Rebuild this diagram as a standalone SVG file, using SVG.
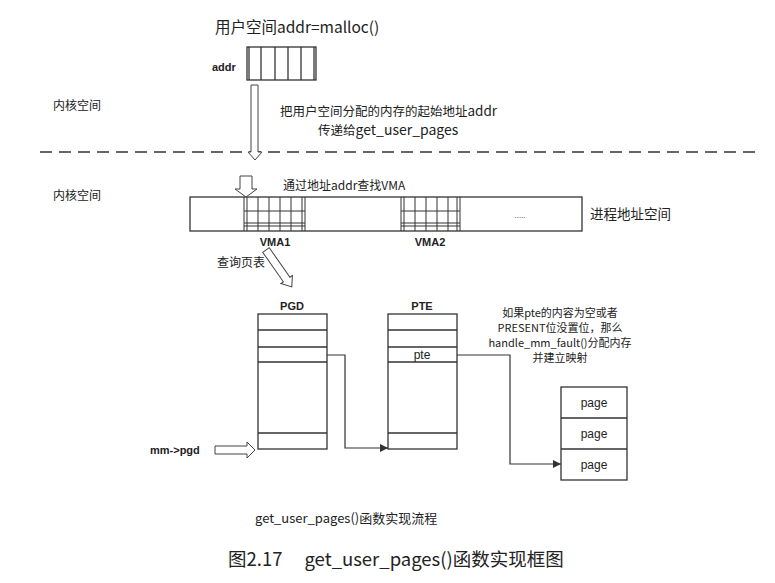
<svg xmlns="http://www.w3.org/2000/svg" width="775" height="583" viewBox="0 0 775 583">
  <style>
    .box { fill: #fff; stroke: #333; stroke-width: 1.3; }
    .ln { fill: none; stroke: #333; stroke-width: 1.3; }
    .thin { fill: none; stroke: #333; stroke-width: 1; }
    .hollow { fill: #fff; stroke: #444; stroke-width: 1; }
    .cjk { font-family: "Noto Sans CJK SC", "Noto Sans", sans-serif; fill: #222; }
    .lbl { font-family: "Liberation Sans", Arial, sans-serif; font-weight: bold; fill: #222; }
    .lat { font-family: "Liberation Sans", Arial, sans-serif; fill: #222; }
    .conn { fill: none; stroke: #333; stroke-width: 1.2; }
  </style>
  <defs>
    <marker id="tri" viewBox="0 0 10 10" refX="10" refY="5" markerWidth="8" markerHeight="8" markerUnits="userSpaceOnUse" orient="auto">
      <path d="M0,0 L10,5 L0,10 z" fill="#333"/>
    </marker>
  </defs>
  <rect width="775" height="583" fill="#fff"/>

  <!-- user space -->
  <g id="user-title">
    <text class="cjk" x="215" y="33" font-size="15.5">用户空间addr=malloc()</text>
  </g>
  <g id="addr-buffer">
    <text class="lbl" x="212" y="71" font-size="11">addr</text>
    <rect class="box" x="247" y="47" width="69" height="33"/>
    <line class="ln" x1="249" y1="47" x2="249" y2="80"/>
    <line class="ln" x1="261" y1="47" x2="261" y2="80"/>
    <line class="ln" x1="275" y1="47" x2="275" y2="80"/>
    <line class="ln" x1="288" y1="47" x2="288" y2="80"/>
    <line class="ln" x1="301" y1="47" x2="301" y2="80"/>
    <line class="ln" x1="314" y1="47" x2="314" y2="80"/>
  </g>
  <g id="label-kernel-1">
    <text class="cjk" x="53" y="110" font-size="12">内核空间</text>
  </g>
  <g id="pass-addr-note">
    <text class="cjk" x="280" y="116" font-size="12.5">把用户空间分配的内存的起始地址<tspan font-size="13.5">addr</tspan></text>
    <text class="cjk" x="318" y="135" font-size="12.5">传递给<tspan font-size="14">get_user_pages</tspan></text>
  </g>

  <!-- user / kernel boundary -->
  <line x1="40" y1="152" x2="762" y2="152" stroke="#333" stroke-width="1.6" stroke-dasharray="12 7"/>

  <!-- kernel space -->
  <g id="label-kernel-2">
    <text class="cjk" x="53" y="200" font-size="12">内核空间</text>
  </g>
  <g id="find-vma-note">
    <text class="cjk" x="283" y="190" font-size="12">通过地址addr查找VMA</text>
  </g>

  <g id="process-address-space">
    <rect class="box" x="190" y="197" width="392" height="34"/>
    <!-- VMA1 -->
    <g id="vma1">
      <line class="thin" x1="244" y1="197" x2="244" y2="231"/>
      <line class="thin" x1="247" y1="197" x2="247" y2="231"/>
      <line class="thin" x1="258" y1="197" x2="258" y2="231"/>
      <line class="thin" x1="269" y1="197" x2="269" y2="231"/>
      <line class="thin" x1="280" y1="197" x2="280" y2="231"/>
      <line class="thin" x1="291" y1="197" x2="291" y2="231"/>
      <line class="thin" x1="302" y1="197" x2="302" y2="231"/>
      <line class="thin" x1="305" y1="197" x2="305" y2="231"/>
      <line class="thin" x1="244" y1="211" x2="305" y2="211"/>
      <line class="thin" x1="244" y1="223" x2="305" y2="223"/>
      <line class="thin" x1="244" y1="226" x2="305" y2="226"/>
      <text class="lbl" x="275" y="246" font-size="11" text-anchor="middle">VMA1</text>
    </g>
    <!-- VMA2 -->
    <g id="vma2">
      <line class="thin" x1="401" y1="197" x2="401" y2="231"/>
      <line class="thin" x1="404" y1="197" x2="404" y2="231"/>
      <line class="thin" x1="415" y1="197" x2="415" y2="231"/>
      <line class="thin" x1="426" y1="197" x2="426" y2="231"/>
      <line class="thin" x1="437" y1="197" x2="437" y2="231"/>
      <line class="thin" x1="448" y1="197" x2="448" y2="231"/>
      <line class="thin" x1="457" y1="197" x2="457" y2="231"/>
      <line class="thin" x1="460" y1="197" x2="460" y2="231"/>
      <line class="thin" x1="401" y1="211" x2="460" y2="211"/>
      <line class="thin" x1="401" y1="223" x2="460" y2="223"/>
      <line class="thin" x1="401" y1="226" x2="460" y2="226"/>
      <text class="lbl" x="430" y="246" font-size="11" text-anchor="middle">VMA2</text>
    </g>
    <text class="lat" x="520" y="218" font-size="8" text-anchor="middle" fill="#666">.....</text>
  </g>
  <g id="label-process-space">
    <text class="cjk" x="590" y="219" font-size="13.5">进程地址空间</text>
  </g>

  <g id="lookup-note">
    <text class="cjk" x="217" y="267" font-size="12">查询页表</text>
  </g>

  <!-- page global directory -->
  <g id="pgd">
    <text class="lbl" x="292" y="310" font-size="11" text-anchor="middle">PGD</text>
    <rect class="box" x="258" y="314" width="69" height="135"/>
    <line class="ln" x1="258" y1="330" x2="327" y2="330"/>
    <line class="ln" x1="258" y1="347" x2="327" y2="347"/>
    <line class="ln" x1="258" y1="362" x2="327" y2="362"/>
    <line class="ln" x1="258" y1="433" x2="327" y2="433"/>
  </g>

  <!-- page table -->
  <g id="pte">
    <text class="lbl" x="422" y="310" font-size="11" text-anchor="middle">PTE</text>
    <rect class="box" x="388" y="314" width="69" height="135"/>
    <line class="ln" x1="388" y1="330" x2="457" y2="330"/>
    <line class="ln" x1="388" y1="347" x2="457" y2="347"/>
    <line class="ln" x1="388" y1="362" x2="457" y2="362"/>
    <line class="ln" x1="388" y1="433" x2="457" y2="433"/>
    <text class="lat" x="422" y="359" font-size="12" text-anchor="middle">pte</text>
  </g>

  <g id="fault-note">
    <text class="cjk" x="560" y="317" font-size="11" text-anchor="middle">如果pte的内容为空或者</text>
    <text class="cjk" x="560" y="332" font-size="11" text-anchor="middle">PRESENT位没置位，那么</text>
    <text class="cjk" x="560" y="347" font-size="11" text-anchor="middle">handle_mm_fault()分配内存</text>
    <text class="cjk" x="560" y="362" font-size="11" text-anchor="middle">并建立映射</text>
  </g>

  <!-- physical pages -->
  <g id="pages">
    <rect class="box" x="561" y="387" width="66" height="93"/>
    <line class="ln" x1="561" y1="418" x2="627" y2="418"/>
    <line class="ln" x1="561" y1="449" x2="627" y2="449"/>
    <text class="lat" x="594" y="407" font-size="12" text-anchor="middle">page</text>
    <text class="lat" x="594" y="438" font-size="12" text-anchor="middle">page</text>
    <text class="lat" x="594" y="469" font-size="12" text-anchor="middle">page</text>
  </g>

  <g id="mm-pgd">
    <text class="lbl" x="150" y="454" font-size="11">mm-&gt;pgd</text>
  </g>

  <g id="flow-title">
    <text class="cjk" x="255" y="523" font-size="13">get_user_pages()函数实现流程</text>
  </g>
  <g id="caption">
    <text class="cjk" x="228" y="566" font-size="18.5" fill="#333">图2.17<tspan dx="22">get_user_pages()函数实现框图</tspan></text>
  </g>

  <!-- connectors -->
  <g id="connectors">
    <!-- hollow block arrows -->
    <path class="hollow" d="M251,85 H258 V152 H262 L255,160 L248,152 H251 Z"/>
    <path class="hollow" d="M240,176 H252 V189 H257 L246,197 L235,189 H240 Z"/>
    <path class="hollow" transform="translate(266,250) rotate(55)" d="M0,-4 H36 V-7 L45,0 L36,7 V4 H0 Z"/>
    <path class="hollow" d="M215,446 H247 V442 L255,450 L247,458 V454 H215 Z"/>
    <!-- PGD entry to PTE table -->
    <path class="conn" marker-end="url(#tri)" d="M327,355 H345 V448 H388"/>
    <!-- pte entry to page -->
    <path class="conn" marker-end="url(#tri)" d="M457,355 H510 V464 H561"/>
  </g>
</svg>
